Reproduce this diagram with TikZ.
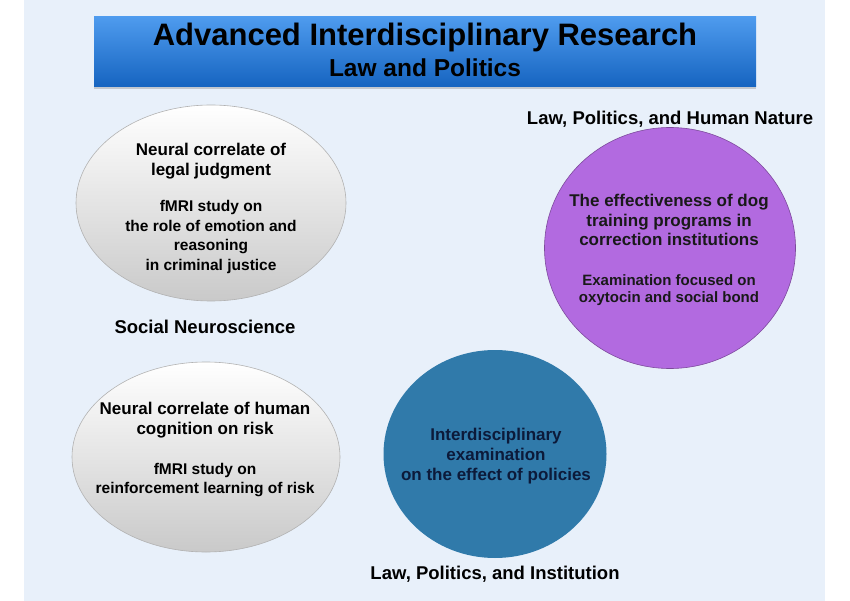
\documentclass[tikz,border=0pt]{standalone}
\usepackage{fontspec}
\setmainfont{Liberation Sans}
\usepackage{xcolor}
\usetikzlibrary{positioning, shapes.geometric, shadows}

\definecolor{pagebg}{RGB}{232,240,250}
\definecolor{titletop}{RGB}{78,155,238}
\definecolor{titlebot}{RGB}{22,100,192}
\definecolor{dogpurple}{RGB}{178,106,224}
\definecolor{policyblue}{RGB}{48,122,170}
\definecolor{navytext}{RGB}{12,26,58}

\begin{document}
\begin{tikzpicture}[x=1pt,y=-1pt,
        ball/.style={ellipse, inner sep=0pt},
        grayball/.style={ball, draw=gray!60, line width=0.6pt, top color=white, bottom color=gray!42},
        txt/.style={align=center, font=\fontsize{17}{19.8}\selectfont\bfseries},
        midtxt/.style={align=center, font=\fontsize{15.5}{19.5}\selectfont\bfseries},
        smalltxt/.style={align=center, font=\fontsize{15}{17}\selectfont\bfseries},
        lbl/.style={font=\fontsize{18.5}{22}\selectfont\bfseries}]
        \useasboundingbox (0,0) rectangle (850,601);
        \fill[white] (0,0) rectangle (850,601);
        \fill[pagebg] (24,0) rectangle (825,601);

        % Title
        \node (title) [top color=titletop, bottom color=titlebot, minimum width=662pt, minimum height=70pt,
            drop shadow={opacity=0.35, shadow xshift=0pt, shadow yshift=-2pt}] at (425,52) {};
        \node (head) [font=\fontsize{31}{33}\selectfont\bfseries] at (425,37) {Advanced Interdisciplinary Research};
        \node (sub) [font=\fontsize{24.5}{26}\selectfont\bfseries] at (425,68) {Law and Politics};

        % Circles
        \node (legal) [grayball, minimum width=270pt, minimum height=196pt] at (211,203) {};
        \node (risk) [grayball, minimum width=268pt, minimum height=190pt] at (206,457) {};
        \node (dog) [ball, fill=dogpurple, draw=dogpurple!70!black, line width=0.6pt,
            minimum width=251pt, minimum height=241pt] at (670,248) {};
        \node (policy) [ball, fill=policyblue, minimum width=223pt, minimum height=208pt] at (495,454) {};

        % Texts in the circles
        \node (legaltop) [txt] at (211,161) {Neural correlate of\\legal judgment};
        \node (legalbot) [midtxt] at (211,237) {fMRI study on\\the role of emotion and\\reasoning\\in criminal justice};
        \node (risktop) [txt] at (205,420) {Neural correlate of human\\cognition on risk};
        \node (riskbot) [midtxt] at (205,480) {fMRI study on\\reinforcement learning of risk};
        \node (dogtop) [txt, text=black!90] at (669,220) {The effectiveness of dog\\training programs in\\correction institutions};
        \node (dogbot) [smalltxt, text=black!90] at (669,290) {Examination focused on\\oxytocin and social bond};
        \node (policytxt) [txt, text=navytext] at (496,456) {Interdisciplinary\\examination\\on the effect of policies};

        % Labels
        \node (neuro) [lbl, below=15pt of legal, xshift=-6pt] {Social Neuroscience};
        \node (nature) [lbl, above=-4pt of dog] {Law, Politics, and Human Nature};
        \node (inst) [lbl, below=4pt of policy] {Law, Politics, and Institution};

    \end{tikzpicture}
\end{document}
